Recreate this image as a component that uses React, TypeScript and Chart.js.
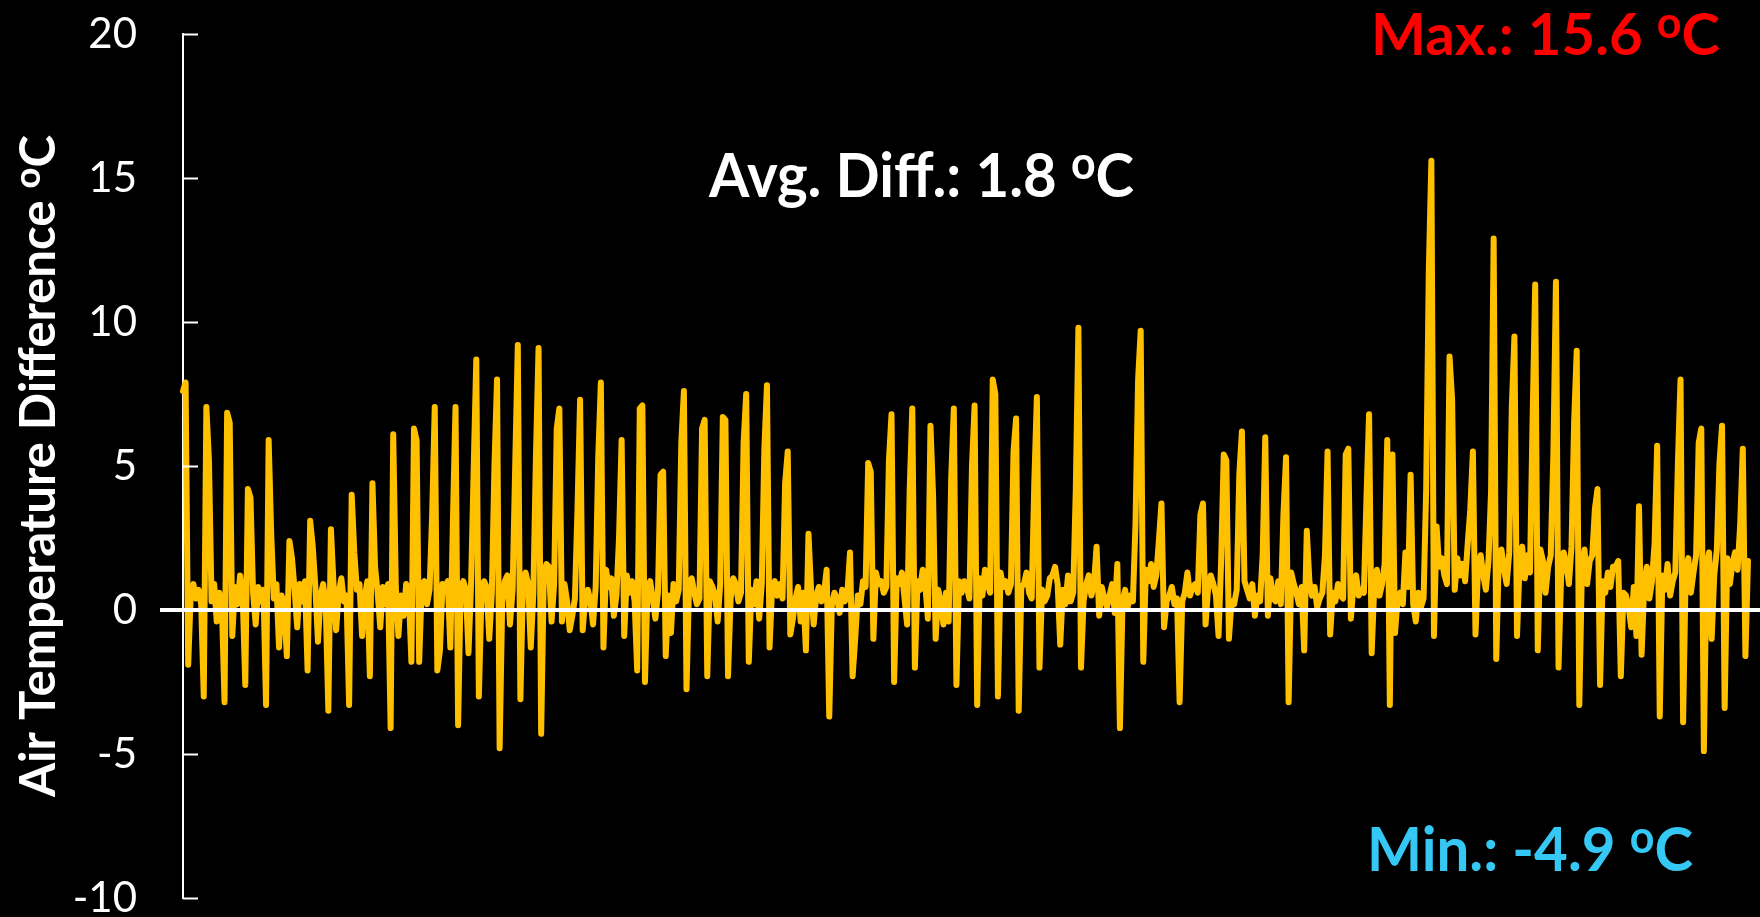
import React, { useEffect, useRef } from "react";
import { Chart, registerables } from "chart.js";

Chart.register(...registerables);

// ---- data (air temperature difference, °C) ----
const diffSegA = [
  7.6, 7.9, -1.9, 0.6, 0.9, 0.4, 0.7, 0.2,
  -3.0, 7.05, 5.2, 0.3, 0.9, -0.4, 0.6, 0.1,
  -3.2, 6.85, 6.5, -0.9, 0.8, 0.2, 1.2, 0.5,
  -2.6, 4.2, 3.9, 0.6, -0.5, 0.8, 0.3, 0.7,
  -3.3, 5.9, 2.6, 0.4, 0.9, -1.3, 0.5, 0.2,
  -1.6, 2.4, 1.8, 0.7, -0.6, 0.9, 0.3, 1.0,
  -2.1, 3.1, 2.2, 0.8, -1.1, 0.5, 0.9, 0.2,
  -3.5, 2.8, 0.9, -0.7, 0.6, 1.1, 0.3, 0.5,
  -3.3, 4.0, 2.0, 0.7, 0.9, -0.9, 0.4, 1.0,
  -2.3, 4.4, 1.5, 0.6, -0.6, 0.8, 0.2, 0.9,
];
const diffSegB = [
  -4.1, 6.1, 0.8, -0.9, 0.5, -0.2, 0.9, 0.6,
  -1.8, 6.3, 5.9, -1.8, 0.9, 1.0, 0.2, 0.7,
  3.3, 7.05, -2.1, -1.4, 0.9, 0.8, 1.0, -1.3,
  3.1, 7.05, -4.0, 0.8, 1.0, 0.7, -1.5, 0.9,
  4.9, 8.7, -3.0, 0.5, 1.0, 0.8, -1.0, 0.6,
  5.0, 8.0, -4.8, 0.3, 1.0, 1.2, -0.5, 0.7,
  5.0, 9.2, -3.1, 1.0, 1.3, 0.9, -1.3, 0.6,
  5.4, 9.1, -4.3, 1.1, 1.6, 1.5, -0.4, 0.9,
  6.3, 7.0, -0.4, 0.9, 0.3, -0.7, -0.2, 0.4,
  3.5, 7.3, -0.7, 0.4, 0.7, 0.3, -0.5, 0.8,
];
const diffSegC = [
  5.3, 7.9, -1.3, 1.4, 0.8, 1.1, -0.2, 0.5,
  2.5, 5.9, -0.9, 1.2, 0.6, 1.0, 0.3, -2.1,
  7.0, 7.1, -2.5, 0.8, 1.0, 0.4, -0.3, 0.6,
  4.7, 4.8, -1.6, 0.5, -0.8, 0.9, 0.3, 0.7,
  5.8, 7.6, -2.75, 0.9, 1.1, 0.6, 0.2, 0.4,
  6.3, 6.6, -2.3, 1.0, 0.8, 0.5, -0.4, 0.9,
  6.7, 6.6, -2.3, 0.4, 1.1, 0.9, 0.3, 0.6,
  5.8, 7.5, -1.8, 0.7, 0.2, 1.0, -0.3, 0.9,
  5.6, 7.8, -1.3, 0.8, 1.0, 0.5, 0.9, 0.4,
  4.4, 5.5, -0.85, -0.3, 0.4, 0.8, -0.4, 0.6,
];
const diffSegD = [
  -1.4, 2.65, 0.7, -0.5, 0.5, 0.8, 0.3, 0.6,
  1.4, -3.7, 0.2, 0.6, 0.4, -0.1, 0.7, 0.3,
  0.6, 2.0, -2.3, -1.0, 0.5, 0.2, 1.0, 0.8,
  5.1, 4.8, -1.0, 1.3, 0.9, 1.0, 0.6, 0.8,
  5.2, 6.8, -2.5, 1.1, 0.9, 1.3, 0.4, -0.5,
  4.2, 7.0, -2.0, 1.0, 0.7, 1.4, 0.9, -0.3,
  6.4, 4.0, -1.0, 0.7, 0.3, -0.5, 0.6, -0.4,
  4.6, 7.0, -2.6, 1.0, 0.6, 1.0, 0.8, 0.4,
  5.0, 7.1, -3.3, 1.1, 0.5, 1.4, 0.9, 0.6,
  8.0, 7.5, -3.0, 1.3, 0.8, 1.0, 0.6, 0.9,
];
const diffSegE = [
  5.5, 6.65, -3.5, 0.8, 0.9, 1.3, 0.6, 0.4,
  4.4, 7.4, -2.0, 0.7, 0.3, 0.5, 1.1, 1.2,
  1.5, 0.9, -1.2, 0.7, 0.2, 1.2, 0.3, 0.6,
  4.2, 9.8, -2.0, 0.3, 0.9, 1.2, 0.5, 0.9,
  2.2, -0.2, 0.8, 0.4, 0.1, 0.5, 0.9, -0.1,
  1.6, -4.1, 0.3, 0.7, 0.1, 0.5, 0.3, 3.0,
  8.0, 9.7, -1.8, 1.4, 1.0, 1.6, 0.8, 1.2,
  2.4, 3.7, -0.6, 0.3, 0.5, 0.8, 0.2, 0.4,
  -3.2, 0.3, 0.6, 1.3, 0.5, 0.8, 0.9, 0.6,
  3.3, 3.7, -0.5, 0.8, 1.2, 0.9, 0.5, -0.9,
];
const diffSegF = [
  1.7, 5.4, 5.2, -1.0, 0.3, 0.2, 0.7, 4.7,
  6.2, 1.0, 0.7, 0.4, 0.9, -0.2, 0.5, 0.3,
  1.9, 6.0, -0.2, 1.1, 0.4, 0.3, 1.0, 0.2,
  3.3, 5.3, -3.2, 1.3, 0.9, 0.6, 0.2, 0.8,
  -1.4, 2.75, 1.0, 0.5, 0.8, 0.1, 0.4, 0.6,
  1.9, 5.5, -0.85, 0.6, 0.3, 0.9, 0.5, 0.4,
  5.4, 5.6, -0.3, 0.9, 1.2, 0.5, 0.7, 0.6,
  3.9, 6.8, -1.5, 0.8, 1.4, 0.5, 0.9, 1.6,
  5.9, -3.3, 5.4, -0.8, 0.4, 0.6, 0.2, 2.0,
  0.8, 4.7, 0.2, -0.4, 0.6, 0.1, 0.4, 4.2,
];
const diffSegG = [
  11.7, 15.6, -0.9, 2.9, 1.5, 1.8, 1.2, 0.9,
  8.8, 7.3, 0.7, 1.8, 1.2, 1.6, 1.0, 2.3,
  3.5, 5.5, -0.85, 1.5, 1.9, 1.2, 0.7, 1.7,
  4.1, 12.9, -1.7, 1.9, 2.1, 1.4, 0.9, 2.0,
  7.05, 9.5, -0.9, 1.6, 2.2, 1.1, 1.9, 1.3,
  6.6, 11.3, -1.4, 2.1, 1.7, 0.6, 1.5, 1.9,
  5.4, 11.4, -2.0, 1.2, 2.0, 1.6, 0.9, 2.2,
  6.5, 9.0, -3.3, 1.4, 2.1, 0.9, 1.7, 1.9,
  3.5, 4.2, -2.6, 1.0, 0.6, 1.3, 0.8, 1.5,
  1.5, 1.7, -2.3, 0.6, 0.5, 0.1, -0.6, 0.8,
];
const diffSegH = [
  -0.9, 3.6, -1.55, 0.8, 1.5, 0.4, 1.0, 2.3,
  5.7, -3.7, 1.2, 0.7, 1.6, 0.5, 1.0, 1.3,
  5.15, 8.0, -3.9, 1.4, 1.8, 0.6, 1.3, 1.9,
  5.8, 6.3, -4.9, 1.5, 2.0, -1.0, 1.2, 2.1,
  5.1, 6.4, -3.4, 1.8, 0.9, 1.6, 2.0, 1.4,
  3.0, 5.6, -1.6, 1.7,
];

const yMin = -10;
const yMax = 20;
const yStep = 5;

const axisTitle = { prefix: "Air Temperature Difference ", sup: "o", suffix: "C" };
const avgLabel = { prefix: "Avg. Diff.: 1.8 ", sup: "o", suffix: "C" };
const maxLabel = { prefix: "Max.: 15.6 ", sup: "o", suffix: "C" };
const minLabel = { prefix: "Min.: -4.9 ", sup: "o", suffix: "C" };

const lineColor = "#FFC000";
const maxColor = "#FF0000";
const minColor = "#36C8F4";

type Parts = { prefix: string; sup: string; suffix: string };

function drawParts(
  ctx: CanvasRenderingContext2D,
  parts: Parts,
  x: number,
  baseline: number,
  targetWidth: number,
  size: number,
  color: string
) {
  const family = "Lato, 'Open Sans', sans-serif";
  const mainFont = `bold ${size}px ${family}`;
  const supFont = `bold ${Math.round(size * 0.74)}px ${family}`;
  ctx.save();
  ctx.fillStyle = color;
  ctx.textBaseline = "alphabetic";
  ctx.textAlign = "left";
  ctx.font = mainFont;
  const w1 = ctx.measureText(parts.prefix).width;
  const w3 = ctx.measureText(parts.suffix).width;
  ctx.font = supFont;
  const w2 = ctx.measureText(parts.sup).width;
  const total = w1 + w2 + w3;
  const sx = targetWidth / total;
  ctx.translate(x, baseline);
  ctx.scale(sx, 1);
  ctx.font = mainFont;
  ctx.fillText(parts.prefix, 0, 0);
  ctx.font = supFont;
  ctx.fillText(parts.sup, w1, -size * 0.3);
  ctx.font = mainFont;
  ctx.fillText(parts.suffix, w1 + w2, 0);
  ctx.restore();
}

const overlayPlugin = {
  id: "overlayPlugin",
  afterDatasetsDraw(chart: any) {
    const { ctx, chartArea, scales } = chart;
    const y = scales.y;
    ctx.save();
    ctx.strokeStyle = "#FFFFFF";
    // inner tick marks
    ctx.lineWidth = 2;
    for (const t of y.ticks) {
      const py = Math.round(y.getPixelForValue(t.value)) + 0.5;
      ctx.beginPath();
      ctx.moveTo(chartArea.left, py);
      ctx.lineTo(chartArea.left + 15, py);
      ctx.stroke();
    }
    // zero line
    const zy = y.getPixelForValue(0);
    ctx.lineWidth = 4;
    ctx.beginPath();
    ctx.moveTo(chartArea.left - 23, zy);
    ctx.lineTo(chart.width, zy);
    ctx.stroke();
    ctx.restore();

    // annotations
    drawParts(ctx, avgLabel, 709, 197, 425, 61, "#FFFFFF");
    drawParts(ctx, maxLabel, 1371, 55, 349, 58, maxColor);
    drawParts(ctx, minLabel, 1367, 871, 326, 61, minColor);

    // rotated y axis title
    ctx.save();
    ctx.translate(55, 797);
    ctx.rotate(-Math.PI / 2);
    drawParts(ctx, axisTitle, 0, 0, 662, 50, "#FFFFFF");
    ctx.restore();
  },
};

export default function App() {
  const canvasRef = useRef<HTMLCanvasElement | null>(null);

  useEffect(() => {
    document.body.style.margin = "0";
    document.body.style.background = "#000";
    const canvas = canvasRef.current;
    if (!canvas) return;
    const values = [
      ...diffSegA,
      ...diffSegB,
      ...diffSegC,
      ...diffSegD,
      ...diffSegE,
      ...diffSegF,
      ...diffSegG,
      ...diffSegH,
    ];
    const labels = values.map((_, i) => String(i));
    const chart = new Chart(canvas, {
      type: "line",
      data: {
        labels,
        datasets: [
          {
            data: values,
            borderColor: lineColor,
            backgroundColor: lineColor,
            borderWidth: 6,
            pointRadius: 0,
            tension: 0,
            borderJoinStyle: "round",
            borderCapStyle: "round",
            fill: false,
          },
        ],
      },
      options: {
        responsive: false,
        animation: false,
        events: [],
        layout: { padding: { top: 34, bottom: 19, right: 12, left: 0 } },
        plugins: {
          legend: { display: false },
          tooltip: { enabled: false },
          title: { display: false },
        },
        scales: {
          x: {
            type: "category",
            offset: false,
            display: false,
            grid: { display: false },
          },
          y: {
            min: yMin,
            max: yMax,
            afterFit: (scale: any) => {
              scale.width = 183;
              scale.paddingTop = 0;
              scale.paddingBottom = 0;
            },
            ticks: {
              stepSize: yStep,
              color: "#FFFFFF",
              padding: 46,
              font: { family: "Lato, 'Open Sans', sans-serif", size: 42, lineHeight: 0.8 },
            },
            grid: { display: false, drawTicks: false },
            border: { display: true, color: "#FFFFFF", width: 2 },
          },
        },
      },
      plugins: [overlayPlugin],
    });
    return () => chart.destroy();
  }, []);

  return (
    <div
      style={{
        position: "fixed",
        left: 0,
        top: 0,
        width: 1760,
        height: 917,
        background: "#000",
      }}
    >
      <canvas ref={canvasRef} width={1760} height={917} style={{ width: 1760, height: 917, display: "block" }} />
    </div>
  );
}
